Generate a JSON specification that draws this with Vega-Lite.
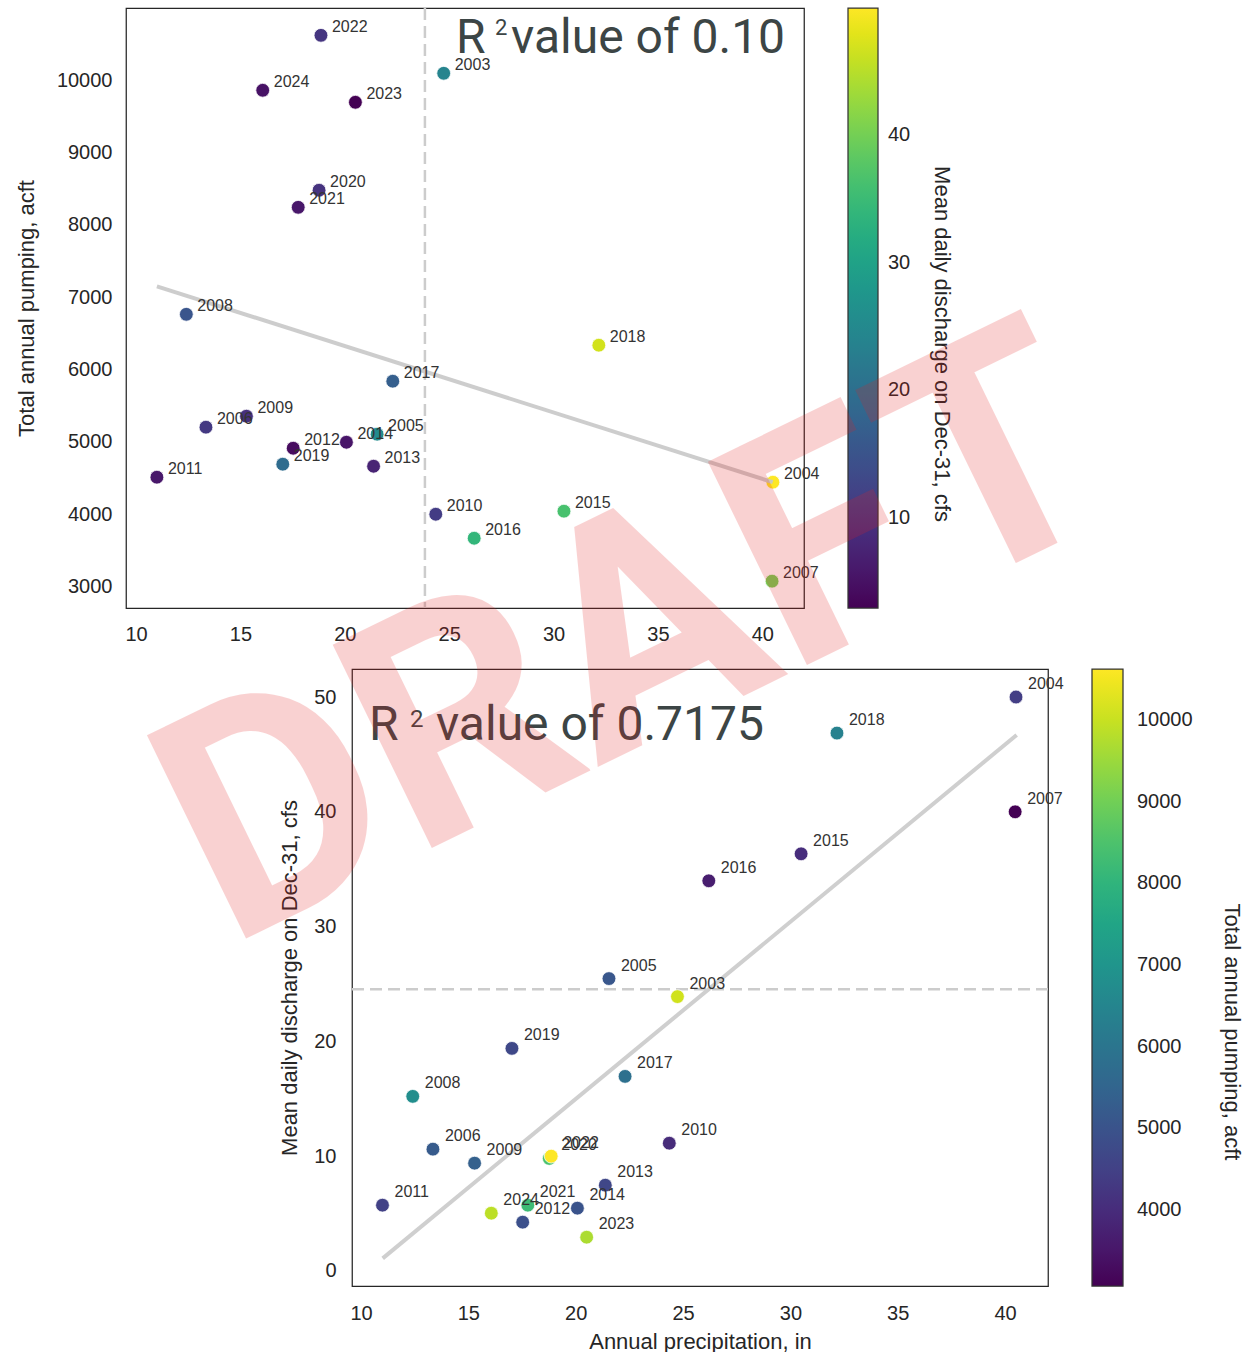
{
  "$schema": "https://vega.github.io/schema/vega-lite/v6.json",
  "padding": {"left": 14, "top": 6, "right": 5, "bottom": 5},
  "background": "white",
  "datasets": {
    "pts": [
      {"year": "2003", "precip": 24.74, "pump": 10097, "q": 23.90},
      {"year": "2004", "precip": 40.51, "pump": 4440, "q": 50.0},
      {"year": "2005", "precip": 21.55, "pump": 5104, "q": 25.47},
      {"year": "2006", "precip": 13.35, "pump": 5201, "q": 10.61},
      {"year": "2007", "precip": 40.47, "pump": 3071, "q": 40.0},
      {"year": "2008", "precip": 12.41, "pump": 6763, "q": 15.21},
      {"year": "2009", "precip": 15.29, "pump": 5353, "q": 9.39},
      {"year": "2010", "precip": 24.36, "pump": 3997, "q": 11.13},
      {"year": "2011", "precip": 11.0, "pump": 4509, "q": 5.73},
      {"year": "2012", "precip": 17.53, "pump": 4910, "q": 4.25},
      {"year": "2013", "precip": 21.38, "pump": 4661, "q": 7.47},
      {"year": "2014", "precip": 20.08, "pump": 4993, "q": 5.47},
      {"year": "2015", "precip": 30.5, "pump": 4039, "q": 36.34},
      {"year": "2016", "precip": 26.2, "pump": 3665, "q": 33.99},
      {"year": "2017", "precip": 22.3, "pump": 5837, "q": 16.95},
      {"year": "2018", "precip": 32.17, "pump": 6335, "q": 46.86},
      {"year": "2019", "precip": 17.03, "pump": 4689, "q": 19.39},
      {"year": "2020", "precip": 18.77, "pump": 8479, "q": 9.8},
      {"year": "2021", "precip": 17.77, "pump": 8243, "q": 5.73},
      {"year": "2022", "precip": 18.86, "pump": 10622, "q": 10.0},
      {"year": "2023", "precip": 20.51, "pump": 9696, "q": 2.94},
      {"year": "2024", "precip": 16.07, "pump": 9862, "q": 5.03}
    ],
    "regTop": [
      {"precip": 11.0, "pump": 7150},
      {"precip": 40.5, "pump": 4440}
    ],
    "regBot": [
      {"precip": 11.01, "q": 1.1},
      {"precip": 40.54, "q": 46.69}
    ]
  },
  "config": {
    "view": {"stroke": "#262626", "strokeWidth": 1.25},
    "axis": {
      "grid": false, "domain": false, "ticks": false, "tickSize": 0,
      "labelFont": "Liberation Sans", "labelFontSize": 20, "labelColor": "#262626",
      "titleFont": "Liberation Sans", "titleFontSize": 22, "titleFontWeight": "normal", "titleColor": "#262626"
    },
    "legend": {"padding": 0},
    "text": {"font": "Liberation Sans"}
  },
  "bounds": "flush",
  "spacing": 61,
  "resolve": {"scale": {"color": "independent"}, "legend": {"color": "independent"}},
  "vconcat": [
    {
      "width": 678,
      "height": 600,
      "layer": [
        {
          "data": {"values": [{}]},
          "mark": {"type": "rule", "color": "#cccccc", "strokeWidth": 2.5, "strokeDash": [12, 6]},
          "encoding": {"x": {"datum": 23.84, "type": "quantitative"}}
        },
        {
          "data": {"name": "pts"},
          "mark": {"type": "point", "filled": true, "size": 190, "opacity": 1, "stroke": "white", "strokeWidth": 0.75},
          "encoding": {
            "x": {"field": "precip", "type": "quantitative",
                  "scale": {"domain": [9.52, 42.0], "zero": false, "nice": false},
                  "axis": {"title": null, "values": [10, 15, 20, 25, 30, 35, 40], "labelPadding": 16}},
            "y": {"field": "pump", "type": "quantitative",
                  "scale": {"domain": [2700, 11000], "zero": false, "nice": false},
                  "axis": {"title": "Total annual pumping, acft", "values": [3000, 4000, 5000, 6000, 7000, 8000, 9000, 10000], "format": "d", "labelPadding": 14, "titlePadding": 18}},
            "color": {"field": "q", "type": "quantitative",
                      "scale": {"scheme": "viridis", "domain": [2.94, 50.0], "nice": false, "zero": false},
                      "legend": {"orient": "right", "direction": "vertical", "type": "gradient", "title": null,
                                 "gradientLength": 600, "gradientThickness": 30, "offset": 44,
                                 "values": [10, 20, 30, 40], "labelFont": "Liberation Sans", "labelFontSize": 20,
                                 "labelColor": "#262626", "labelOffset": 10,
                                 "gradientStrokeColor": "#333333", "gradientStrokeWidth": 1.25}}
          }
        },
        {
          "data": {"name": "regTop"},
          "mark": {"type": "line", "color": "#c8c8c8", "strokeWidth": 4, "opacity": 0.9},
          "encoding": {
            "x": {"field": "precip", "type": "quantitative"},
            "y": {"field": "pump", "type": "quantitative"}
          }
        },
        {
          "data": {"name": "pts"},
          "mark": {"type": "text", "align": "left", "baseline": "alphabetic", "dx": 11, "dy": -3, "fontSize": 16, "color": "#333333"},
          "encoding": {
            "x": {"field": "precip", "type": "quantitative"},
            "y": {"field": "pump", "type": "quantitative"},
            "text": {"field": "year"}
          }
        },
        {
          "data": {"values": [{}]},
          "mark": {"type": "text", "text": "R", "font": "Roboto", "fontSize": 48, "align": "left", "baseline": "alphabetic", "color": "#3c4545"},
          "encoding": {"x": {"datum": 25.33, "type": "quantitative"}, "y": {"datum": 10377, "type": "quantitative"}}
        },
        {
          "data": {"values": [{}]},
          "mark": {"type": "text", "text": "2", "font": "Roboto", "fontSize": 22, "align": "left", "baseline": "alphabetic", "dx": 39, "dy": -18, "color": "#3c4545"},
          "encoding": {"x": {"datum": 25.33, "type": "quantitative"}, "y": {"datum": 10377, "type": "quantitative"}}
        },
        {
          "data": {"values": [{}]},
          "mark": {"type": "text", "text": "value of 0.10", "font": "Roboto", "fontSize": 48, "align": "left", "baseline": "alphabetic", "dx": 55, "color": "#3c4545"},
          "encoding": {"x": {"datum": 25.33, "type": "quantitative"}, "y": {"datum": 10377, "type": "quantitative"}}
        },
        {
          "data": {"values": [{}]},
          "mark": {"type": "text", "text": "Mean daily discharge on Dec-31, cfs", "fontSize": 22, "angle": 90, "align": "center", "baseline": "middle", "color": "#262626"},
          "encoding": {"x": {"datum": 48.61, "type": "quantitative"}, "y": {"datum": 6352, "type": "quantitative"}}
        }
      ]
    },
    {
      "bounds": "flush",
      "spacing": 0,
      "resolve": {"scale": {"color": "independent"}, "legend": {"color": "independent"}},
      "hconcat": [
        {
          "width": 226,
          "height": 10,
          "view": {"stroke": null},
          "data": {"values": [{}]},
          "mark": {"type": "text", "text": ""},
          "encoding": {}
        },
        {
          "width": 696,
          "height": 617,
          "layer": [
            {
              "data": {"values": [{}]},
              "mark": {"type": "rule", "color": "#cccccc", "strokeWidth": 2.5, "strokeDash": [12, 6]},
              "encoding": {"y": {"datum": 24.54, "type": "quantitative"}}
            },
            {
              "data": {"name": "pts"},
              "mark": {"type": "point", "filled": true, "size": 190, "opacity": 1, "stroke": "white", "strokeWidth": 0.75},
              "encoding": {
                "x": {"field": "precip", "type": "quantitative",
                      "scale": {"domain": [9.58, 42.0], "zero": false, "nice": false},
                      "axis": {"title": "Annual precipitation, in", "values": [10, 15, 20, 25, 30, 35, 40], "labelPadding": 17, "titlePadding": 8}},
                "y": {"field": "q", "type": "quantitative",
                      "scale": {"domain": [-1.31, 52.44], "zero": false, "nice": false},
                      "axis": {"title": "Mean daily discharge on Dec-31, cfs", "values": [0, 10, 20, 30, 40, 50], "labelPadding": 16, "titlePadding": 12}},
                "color": {"field": "pump", "type": "quantitative",
                          "scale": {"scheme": "viridis", "domain": [3071, 10622], "nice": false, "zero": false},
                          "legend": {"orient": "right", "direction": "vertical", "type": "gradient", "title": null,
                                     "gradientLength": 617, "gradientThickness": 31, "offset": 44,
                                     "values": [4000, 5000, 6000, 7000, 8000, 9000, 10000], "format": "d",
                                     "labelFont": "Liberation Sans", "labelFontSize": 20,
                                     "labelColor": "#262626", "labelOffset": 14,
                                     "gradientStrokeColor": "#333333", "gradientStrokeWidth": 1.25}}
              }
            },
            {
              "data": {"name": "regBot"},
              "mark": {"type": "line", "color": "#cfcfcf", "strokeWidth": 4},
              "encoding": {
                "x": {"field": "precip", "type": "quantitative"},
                "y": {"field": "q", "type": "quantitative"}
              }
            },
            {
              "data": {"name": "pts"},
              "mark": {"type": "text", "align": "left", "baseline": "alphabetic", "dx": 12, "dy": -8, "fontSize": 16, "color": "#333333"},
              "encoding": {
                "x": {"field": "precip", "type": "quantitative"},
                "y": {"field": "q", "type": "quantitative"},
                "text": {"field": "year"}
              }
            },
            {
              "data": {"values": [{}]},
              "mark": {"type": "text", "text": "R", "font": "Roboto", "fontSize": 48, "align": "left", "baseline": "alphabetic", "color": "#3c4545"},
              "encoding": {"x": {"datum": 10.37, "type": "quantitative"}, "y": {"datum": 46.25, "type": "quantitative"}}
            },
            {
              "data": {"values": [{}]},
              "mark": {"type": "text", "text": "2", "font": "Roboto", "fontSize": 24, "align": "left", "baseline": "alphabetic", "dx": 41, "dy": -13, "color": "#3c4545"},
              "encoding": {"x": {"datum": 10.37, "type": "quantitative"}, "y": {"datum": 46.25, "type": "quantitative"}}
            },
            {
              "data": {"values": [{}]},
              "mark": {"type": "text", "text": "value of 0.7175", "font": "Roboto", "fontSize": 48, "align": "left", "baseline": "alphabetic", "dx": 67, "color": "#3c4545"},
              "encoding": {"x": {"datum": 10.37, "type": "quantitative"}, "y": {"datum": 46.25, "type": "quantitative"}}
            },
            {
              "data": {"values": [{}]},
              "mark": {"type": "text", "text": "Total annual pumping, acft", "fontSize": 22, "angle": 90, "align": "center", "baseline": "middle", "color": "#262626"},
              "encoding": {"x": {"datum": 50.57, "type": "quantitative"}, "y": {"datum": 20.82, "type": "quantitative"}}
            },
            {
              "data": {"values": [{}]},
              "mark": {"type": "text", "text": "DRAFT", "font": "Roboto", "fontWeight": "bold", "fontSize": 318, "angle": -26, "align": "center", "baseline": "middle", "color": "#e62020", "opacity": 0.2},
              "encoding": {"x": {"datum": 22.77, "type": "quantitative"}, "y": {"datum": 54.7, "type": "quantitative"}}
            }
          ]
        }
      ]
    }
  ]
}
